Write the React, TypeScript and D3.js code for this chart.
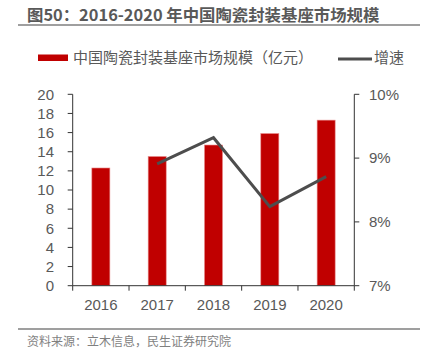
import React from "react";
import * as d3 from "d3";

const years = ["2016", "2017", "2018", "2019", "2020"];
const marketSize = [12.3, 13.5, 14.7, 15.9, 17.3];
const growth = [null, 8.91, 9.32, 8.24, 8.71];
const leftTicks = [0, 2, 4, 6, 8, 10, 12, 14, 16, 18, 20];
const rightTicks = [7, 8, 9, 10];

const FONT = "'Liberation Sans', Arial, 'Noto Sans CJK SC', sans-serif";
const CJK = "'Noto Sans CJK SC', 'Liberation Sans', sans-serif";

export default function App() {
  const W = 427, H = 359;
  const left = 72.7, right = 354.3, top = 94.3, bottom = 285.7;
  const x = d3.scaleBand<string>().domain(years).range([left, right]).padding(0);
  const yL = d3.scaleLinear().domain([0, 20]).range([bottom, top]);
  const yR = d3.scaleLinear().domain([7, 10]).range([bottom, top]);
  const bw = x.bandwidth() * 0.32;
  const pts = years
    .map((yr, i) => ({ yr, v: growth[i] }))
    .filter((d) => d.v != null) as { yr: string; v: number }[];
  const line = d3
    .line<{ yr: string; v: number }>()
    .x((d) => (x(d.yr) as number) + x.bandwidth() / 2)
    .y((d) => yR(d.v));
  const textColor = "#595959";
  const axisColor = "#333333";
  return (
    <svg width={W} height={H} style={{ position: "absolute", left: 0, top: 0 }}>
      <rect width={W} height={H} fill="#fff" />
      <text x={27} y={21} fontFamily={CJK} fontWeight="bold" fontSize={16.4} fill="#595959">
        图50：2016-2020 年中国陶瓷封装基座市场规模
      </text>
      <line x1={18} x2={420} y1={25} y2={25} stroke="#7f7f7f" strokeWidth={1.5} />

      {/* legend */}
      <rect x={38} y={54.5} width={30} height={6.5} fill="#C00000" />
      <text x={73} y={63} fontFamily={CJK} fontSize={15} fill={textColor}>
        中国陶瓷封装基座市场规模（亿元）
      </text>
      <line x1={338} x2={372} y1={59} y2={59} stroke="#4d4d4d" strokeWidth={3} />
      <text x={374} y={63} fontFamily={CJK} fontSize={15} fill={textColor}>
        增速
      </text>

      {/* bars */}
      {years.map((yr, i) => (
        <rect
          key={yr}
          x={(x(yr) as number) + x.bandwidth() / 2 - bw / 2}
          y={yL(marketSize[i])}
          width={bw}
          height={bottom - yL(marketSize[i])}
          fill="#C00000"
          stroke="#e88a8a"
          strokeWidth={0.6}
        />
      ))}

      {/* line */}
      <path d={line(pts) || ""} fill="none" stroke="#4d4d4d" strokeWidth={3} strokeLinejoin="miter" />

      {/* left axis */}
      <line x1={left} x2={left} y1={top} y2={bottom} stroke={axisColor} strokeWidth={1} />
      {leftTicks.map((t) => (
        <g key={t}>
          <line x1={left - 5} x2={left} y1={yL(t)} y2={yL(t)} stroke={axisColor} />
          <text x={54} y={yL(t)} dy="0.35em" textAnchor="end" fontFamily={FONT} fontSize={15} fill={textColor}>
            {t}
          </text>
        </g>
      ))}

      {/* right axis */}
      <line x1={right} x2={right} y1={top} y2={bottom} stroke={axisColor} strokeWidth={1} />
      {rightTicks.map((t) => (
        <g key={t}>
          <line x1={right} x2={right + 5} y1={yR(t)} y2={yR(t)} stroke={axisColor} />
          <text x={369} y={yR(t)} dy="0.35em" fontFamily={FONT} fontSize={15} fill={textColor}>
            {t}%
          </text>
        </g>
      ))}

      {/* x axis */}
      <line x1={left} x2={right} y1={bottom} y2={bottom} stroke={axisColor} strokeWidth={1} />
      {[...years.map((yr) => x(yr) as number), right].map((px, i) => (
        <line key={i} x1={px} x2={px} y1={bottom} y2={bottom + 5} stroke={axisColor} />
      ))}
      {years.map((yr) => (
        <text
          key={yr}
          x={(x(yr) as number) + x.bandwidth() / 2}
          y={305}
          dy="0.35em"
          textAnchor="middle"
          fontFamily={FONT}
          fontSize={15}
          fill={textColor}
        >
          {yr}
        </text>
      ))}

      <line x1={18} x2={420} y1={329} y2={329} stroke="#7f7f7f" strokeWidth={1.5} />
      <text x={27} y={346} fontFamily={CJK} fontSize={12} fill="#7f7f7f">
        资料来源：立木信息，民生证券研究院
      </text>
    </svg>
  );
}
